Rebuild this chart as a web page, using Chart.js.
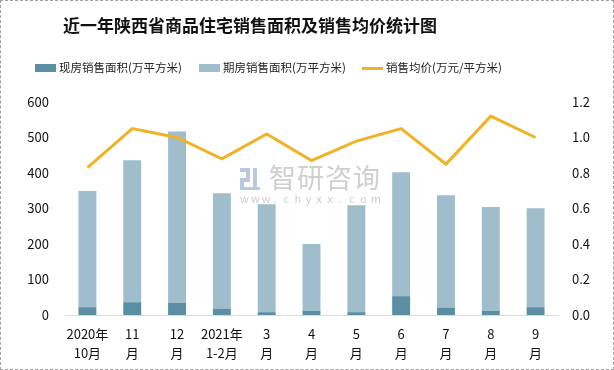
<!DOCTYPE html>
<html>
<head>
<meta charset="utf-8">
<script src="https://cdn.jsdelivr.net/npm/chart.js@4.4.1/dist/chart.umd.min.js"></script>
<style>
    html, body { margin: 0; padding: 0; background: #fff; }
    #wrap { position: relative; width: 614px; height: 370px; box-sizing: border-box; border: 1px dashed #a0a0a0; }
    canvas { display: block; }
</style>
</head>
<body>
<div id="wrap"><canvas id="salesChart" width="612" height="368"></canvas></div>
<script>
// data
const months = [['2020年', '10月'], ['11', '月'], ['12', '月'], ['2021年', '1-2月'], ['3', '月'], ['4', '月'],
    ['5', '月'], ['6', '月'], ['7', '月'], ['8', '月'], ['9', '月']];
const spotArea = [22, 36, 35, 17, 8, 12, 8, 53, 20, 12, 22];
const futureArea = [327, 400, 482, 326, 304, 188, 301, 349, 317, 292, 279];
const avgPrice = [0.83, 1.05, 1.00, 0.88, 1.02, 0.87, 0.98, 1.05, 0.85, 1.12, 1.00];
const leftTicks = [0, 100, 200, 300, 400, 500, 600];
const rightTicks = [0, 0.2, 0.4, 0.6, 0.8, 1.0, 1.2];

const cjk = '"Noto Sans CJK SC", "Noto Sans", sans-serif';

// title, legend and watermark are painted straight onto the canvas
const decorPlugin = {
    id: 'decor',
    beforeDatasetsDraw(chart) {
        const ctx = chart.ctx;
        ctx.save();
        ctx.fillStyle = '#cfcfcf';
        ctx.font = '27px ' + cjk;
        ctx.textBaseline = 'middle';
        const mark = '智研咨询';
        for (let i = 0; i < mark.length; i++) {
            ctx.fillText(mark[i], 268 + i * 28, 177);
        }
        ctx.font = '11px ' + cjk;
        const site = 'www.chyxx.com';
        for (let i = 0; i < site.length; i++) {
            ctx.fillText(site[i], 239 + i * 10.9, 198);
        }
        // small logo
        ctx.fillStyle = '#b8c8e0';
        ctx.fillRect(239, 167, 10, 4);
        ctx.fillRect(245, 171, 4, 6);
        ctx.fillRect(239, 177, 10, 4);
        ctx.fillRect(239, 181, 4, 6);
        ctx.fillRect(252, 167, 4, 20);
        ctx.fillRect(239, 186, 20, 3);
        ctx.restore();
    },
    afterDraw(chart) {
        const ctx = chart.ctx;
        ctx.save();
        ctx.fillStyle = '#111';
        ctx.font = 'bold 17px ' + cjk;
        ctx.textAlign = 'center';
        ctx.textBaseline = 'middle';
        ctx.fillText('近一年陕西省商品住宅销售面积及销售均价统计图', 249, 25);

        ctx.textAlign = 'left';
        ctx.font = '11.5px ' + cjk;
        const items = [
            { ds: chart.data.datasets[1], x: 34, line: false },
            { ds: chart.data.datasets[2], x: 198, line: false },
            { ds: chart.data.datasets[0], x: 361, line: true }
        ];
        items.forEach(it => {
            if (it.line) {
                ctx.fillStyle = it.ds.borderColor;
                ctx.fillRect(it.x, 66, 21, 3);
            } else {
                ctx.fillStyle = it.ds.backgroundColor;
                ctx.fillRect(it.x, 63, 21, 8);
            }
            ctx.fillStyle = '#222';
            ctx.fillText(it.ds.label, it.x + 24, 67);
        });
        ctx.restore();
    }
};

const ctx = document.getElementById('salesChart').getContext('2d');
const chart = new Chart(ctx, {
    data: {
        labels: months,
        datasets: [
            {
                type: 'line',
                label: '销售均价(万元/平方米)',
                data: avgPrice,
                yAxisID: 'y1',
                borderColor: '#f1b325',
                backgroundColor: '#f1b325',
                borderWidth: 3,
                pointRadius: 0,
                tension: 0,
                order: 0
            },
            {
                type: 'bar',
                label: '现房销售面积(万平方米)',
                data: spotArea,
                yAxisID: 'y',
                backgroundColor: '#5a8fa3',
                barPercentage: 0.4,
                categoryPercentage: 1,
                order: 1
            },
            {
                type: 'bar',
                label: '期房销售面积(万平方米)',
                data: futureArea,
                yAxisID: 'y',
                backgroundColor: '#9fbdcb',
                barPercentage: 0.4,
                categoryPercentage: 1,
                order: 1
            }
        ]
    },
    options: {
        responsive: false,
        animation: false,
        layout: { padding: { top: 101, bottom: 0, left: 0, right: 0 } },
        plugins: {
            legend: { display: false },
            title: { display: false },
            tooltip: { enabled: false }
        },
        scales: {
            x: {
                stacked: true,
                grid: { display: false, drawTicks: false },
                border: { display: true, color: '#d9d9d9', width: 1 },
                ticks: {
                    color: '#111',
                    padding: 10,
                    maxRotation: 0,
                    autoSkip: false,
                    font: { family: cjk, size: 13, lineHeight: 1.45 }
                },
                afterFit: (scale) => { scale.height = 54; }
            },
            y: {
                stacked: true,
                min: 0,
                max: 600,
                position: 'left',
                grid: { display: false, drawTicks: false },
                border: { display: false },
                afterBuildTicks: (scale) => { scale.ticks = leftTicks.map(v => ({ value: v })); },
                ticks: {
                    color: '#111',
                    padding: 16,
                    font: { family: cjk, size: 13 }
                },
                afterFit: (scale) => { scale.width = 64; }
            },
            y1: {
                min: 0,
                max: 1.2,
                position: 'right',
                grid: { display: false, drawTicks: false },
                border: { display: false },
                afterBuildTicks: (scale) => { scale.ticks = rightTicks.map(v => ({ value: v })); },
                ticks: {
                    color: '#111',
                    padding: 14,
                    font: { family: cjk, size: 13 },
                    callback: (v) => Number(v).toFixed(1)
                },
                afterFit: (scale) => { scale.width = 55; }
            }
        }
    },
    plugins: [decorPlugin]
});
</script>
</body>
</html>
